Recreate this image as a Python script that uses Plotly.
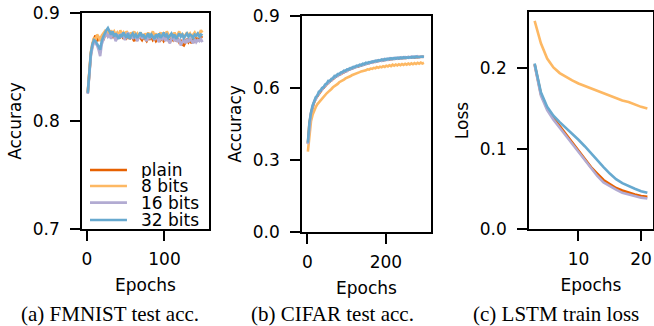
import plotly.graph_objects as go

# ---------------- data ----------------
series_names = ["plain", "8 bits", "16 bits", "32 bits"]
series_colors = ["#e66101", "#fdb863", "#b2abd2", "#67a9cf"]

# (a) FMNIST test accuracy, every second epoch
fm_epochs = list(range(1, 150, 2))
fm_plain = [.826,.848,.862,.870,.876,.879,.874,.877,.876,.878,
            .875,.879,.880,.882,.878,.881,.877,.880,.879,.876,
            .880,.878,.881,.876,.879,.877,.880,.876,.878,.877,
            .874,.878,.876,.879,.877,.875,.878,.876,.874,.877,
            .876,.878,.875,.877,.874,.876,.878,.875,.877,.874,
            .876,.878,.875,.873,.877,.875,.878,.874,.876,.873,
            .875,.871,.870,.874,.876,.873,.875,.872,.876,.874,
            .877,.875,.876,.878,.877]
fm_8 = [.827,.850,.864,.872,.877,.875,.880,.878,.874,.879,
        .881,.883,.880,.882,.879,.884,.881,.883,.880,.882,
        .879,.884,.880,.882,.879,.883,.881,.878,.882,.880,
        .883,.879,.881,.878,.882,.880,.877,.881,.879,.882,
        .878,.880,.883,.879,.881,.877,.880,.882,.878,.881,
        .879,.883,.880,.877,.881,.879,.882,.878,.880,.883,
        .879,.881,.877,.880,.882,.879,.881,.878,.880,.882,
        .879,.881,.880,.884,.882]
fm_16 = [.825,.846,.860,.868,.873,.872,.870,.866,.860,.871,
         .876,.879,.881,.878,.880,.876,.882,.879,.874,.878,
         .880,.877,.881,.878,.875,.879,.882,.877,.880,.876,
         .879,.877,.874,.878,.881,.876,.879,.877,.874,.878,
         .876,.880,.877,.875,.879,.876,.873,.878,.876,.879,
         .874,.877,.875,.872,.876,.879,.874,.877,.873,.876,
         .870,.874,.876,.872,.875,.873,.877,.874,.872,.876,
         .873,.875,.874,.876,.873]
fm_32 = [.826,.849,.863,.871,.875,.874,.872,.869,.866,.874,
         .878,.882,.884,.886,.882,.880,.883,.878,.881,.879,
         .876,.880,.878,.882,.879,.877,.881,.876,.879,.881,
         .878,.880,.877,.879,.882,.878,.880,.876,.879,.881,
         .877,.880,.878,.876,.880,.878,.881,.877,.879,.882,
         .878,.880,.877,.879,.881,.878,.880,.876,.879,.881,
         .878,.880,.877,.879,.881,.878,.880,.879,.877,.880,
         .879,.881,.878,.880,.879]

# (b) CIFAR test accuracy, every fourth epoch
cf_epochs = list(range(1, 300, 4))
cf_plain = [.368,.452,.494,.522,.541,.556,.566,.578,.587,.594,
            .601,.609,.616,.622,.627,.633,.639,.644,.648,.652,
            .656,.660,.664,.667,.670,.673,.676,.679,.681,.684,
            .686,.689,.690,.693,.694,.697,.699,.701,.702,.704,
            .705,.707,.708,.710,.711,.713,.713,.715,.716,.717,
            .717,.719,.719,.720,.721,.722,.721,.723,.723,.724,
            .724,.725,.725,.726,.726,.727,.727,.728,.727,.729,
            .728,.729,.729,.730,.730]
cf_8 = [.335,.418,.462,.488,.506,.520,.532,.540,.548,.555,
        .565,.571,.578,.584,.592,.596,.603,.607,.614,.617,
        .624,.627,.633,.635,.640,.642,.647,.649,.653,.655,
        .659,.661,.664,.666,.669,.670,.674,.674,.678,.677,
        .681,.680,.684,.682,.687,.684,.689,.686,.691,.688,
        .693,.690,.695,.691,.697,.693,.698,.694,.699,.695,
        .700,.696,.701,.697,.702,.698,.703,.699,.704,.700,
        .705,.701,.706,.702,.705]
cf_16 = [.366,.450,.496,.520,.544,.553,.569,.576,.590,.592,
         .604,.607,.619,.620,.630,.631,.642,.642,.651,.650,
         .659,.658,.667,.665,.673,.671,.679,.677,.684,.682,
         .689,.687,.693,.691,.697,.695,.701,.699,.704,.702,
         .708,.705,.711,.708,.714,.711,.716,.713,.719,.715,
         .721,.717,.723,.719,.724,.721,.726,.722,.727,.723,
         .728,.724,.729,.725,.730,.726,.731,.727,.731,.728,
         .732,.728,.731,.729,.730]
cf_32 = [.372,.458,.498,.528,.543,.562,.568,.585,.588,.600,
         .603,.615,.618,.630,.629,.638,.640,.650,.649,.658,
         .658,.665,.666,.672,.671,.678,.677,.683,.682,.688,
         .687,.693,.691,.697,.695,.701,.699,.705,.703,.708,
         .706,.711,.709,.714,.711,.716,.714,.719,.716,.721,
         .718,.722,.720,.724,.721,.725,.722,.726,.723,.727,
         .724,.728,.725,.728,.726,.729,.727,.730,.727,.731,
         .728,.730,.729,.731,.729]

# (c) LSTM train loss
ls_epochs = list(range(3, 22))
ls_plain = [.205,.168,.150,.138,.128,.118,.108,.097,.087,.077,
            .069,.061,.056,.051,.048,.045,.043,.041,.040]
ls_8 = [.259,.231,.212,.201,.194,.189,.185,.181,.178,.175,
        .172,.169,.166,.163,.160,.158,.155,.152,.150]
ls_16 = [.204,.166,.148,.136,.126,.116,.106,.095,.085,.075,
         .066,.058,.053,.049,.045,.043,.041,.039,.038]
ls_32 = [.206,.170,.152,.141,.133,.126,.119,.111,.103,.094,
         .085,.077,.069,.062,.057,.053,.050,.047,.045]

captions = ["(a) FMNIST test acc.", "(b) CIFAR test acc.", "(c) LSTM train loss"]

# ---------------- figure ----------------
W, H = 654, 326
SANS = "DejaVu Sans"
SERIF = "Liberation Serif"
FS = 17

fig = go.Figure()
panels = [
    (fm_epochs, [fm_plain, fm_8, fm_16, fm_32], "x", "y"),
    (cf_epochs, [cf_plain, cf_8, cf_16, cf_32], "x2", "y2"),
    (ls_epochs, [ls_plain, ls_8, ls_16, ls_32], "x3", "y3"),
]
for xs, ys_list, xa, ya in panels:
    for name, color, ys in zip(series_names, series_colors, ys_list):
        fig.add_trace(go.Scatter(x=xs, y=ys, mode="lines", name=name,
                                 line=dict(color=color, width=2.6),
                                 xaxis=xa, yaxis=ya, showlegend=False))

def px_x(a, b):
    return [a / W, b / W]

def px_y(top, bottom):
    return [1 - bottom / H, 1 - top / H]

axis_common = dict(showline=True, linecolor="black", linewidth=1.5, mirror=True,
                   ticks="outside", ticklen=10, tickwidth=1.5, tickcolor="black",
                   showgrid=False, zeroline=False, automargin=False,
                   tickfont=dict(family=SANS, size=FS, color="black"))
title_font = dict(family=SANS, size=FS, color="black")

fig.update_layout(
    width=W, height=H, margin=dict(l=0, r=0, t=0, b=0),
    paper_bgcolor="white", plot_bgcolor="white",
    xaxis=dict(domain=px_x(82, 209), range=[-6.45, 157.45], tickvals=[0, 100],
               title=dict(text="Epochs", font=title_font, standoff=11),
               ticklabelstandoff=4, anchor="y", **axis_common),
    yaxis=dict(domain=px_y(13, 229), range=[0.7, 0.9], tickvals=[0.7, 0.8, 0.9], tickformat=".1f",
               title=dict(text="Accuracy", font=title_font, standoff=7),
               ticklabelstandoff=7, anchor="x", **axis_common),
    xaxis2=dict(domain=px_x(302, 431), range=[-14, 315], tickvals=[0, 200],
                title=dict(text="Epochs", font=title_font, standoff=11),
                ticklabelstandoff=4, anchor="y2", **axis_common),
    yaxis2=dict(domain=px_y(16, 232), range=[0, 0.9], tickvals=[0, 0.3, 0.6, 0.9], tickformat=".1f",
                title=dict(text="Accuracy", font=title_font, standoff=7),
                ticklabelstandoff=7, anchor="x2", **axis_common),
    xaxis3=dict(domain=px_x(529, 653), range=[2.1, 21.9], tickvals=[10, 20],
                title=dict(text="Epochs", font=title_font, standoff=11),
                ticklabelstandoff=4, anchor="y3", **axis_common),
    yaxis3=dict(domain=px_y(12, 229), range=[0, 0.27], tickvals=[0, 0.1, 0.2], tickformat=".1f",
                title=dict(text="Loss", font=title_font, standoff=7),
                ticklabelstandoff=7, anchor="x3", **axis_common),
)

# captions
cap_centers = [110, 332, 556]
for cap, cx in zip(captions, cap_centers):
    fig.add_annotation(text=cap, x=cx / W, y=1 - 314 / H, xref="paper", yref="paper",
                       xanchor="center", yanchor="middle", showarrow=False,
                       font=dict(family=SERIF, size=21, color="black"))

# legend (inside panel a, compact like the original)
leg_rows = [0.273, 0.199, 0.122, 0.042]
for name, color, ry in zip(series_names, series_colors, leg_rows):
    fig.add_shape(type="line", xref="x domain", yref="y domain",
                  x0=0.063, x1=0.354, y0=ry, y1=ry,
                  line=dict(color=color, width=2.6))
    fig.add_annotation(text=name, xref="x domain", yref="y domain",
                       x=0.457, y=ry, xanchor="left", yanchor="middle", showarrow=False,
                       height=16, valign="middle", borderpad=0,
                       font=dict(family=SANS, size=FS, color="black"))

fig.write_html("out.html", config={"displayModeBar": False},
               post_script="document.body.style.margin='0';")
